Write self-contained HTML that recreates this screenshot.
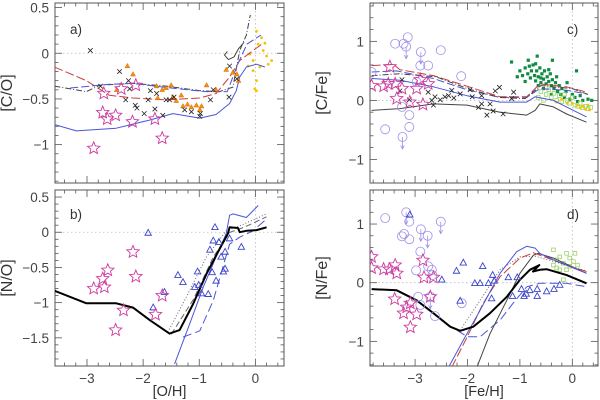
<!DOCTYPE html>
<html><head><meta charset="utf-8"><style>
html,body{margin:0;padding:0;background:#fff}
svg{display:block;font-family:"Liberation Sans",sans-serif}
</style></head><body>
<svg id="fig" width="600" height="400" viewBox="0 0 600 400" xmlns="http://www.w3.org/2000/svg"></svg>
<script>
// ---------- data ----------
const aStars=[[-2.88,-1.04],[-2.70,-0.44],[-2.72,-0.65],[-2.64,-0.72],[-2.49,-0.68],[-2.19,-0.75],[-2.13,-0.35],[-2.39,-0.39],[-1.79,-0.72],[-1.66,-0.93]];
const aCross=[[-2.94,0.03],[-2.76,-0.36],[-2.42,-0.2],[-2.26,-0.3],[-2.24,-0.39],[-2.31,-0.51],[-2.14,-0.57],[-2.11,-0.6],[-1.98,-0.66],[-1.91,-0.51],[-1.79,-0.61],[-1.87,-0.41],[-1.65,-0.68],[-1.59,-0.51],[-1.53,-0.51],[-1.45,-0.48],[-1.26,-0.62],[-1.14,-0.64],[-0.99,-0.69],[-0.98,-0.66],[-0.80,-0.51],[-0.75,-0.40],[-0.47,-0.48],[-0.46,-0.14],[-0.33,-0.28],[-1.76,-0.44]];
const aOrange=[[-2.28,-0.14],[-2.18,-0.23],[-2.47,-0.40],[-1.76,-0.36],[-1.50,-0.35],[-1.74,-0.49],[-1.47,-0.48],[-1.41,-0.52],[-1.29,-0.58],[-1.21,-0.56],[-1.14,-0.59],[-1.05,-0.57],[-0.99,-0.62],[-0.96,-0.58],[-0.87,-0.35],[-0.70,-0.40],[-0.52,-0.18],[-0.40,-0.21],[-0.33,-0.23],[-0.30,-0.30],[-1.66,-0.40],[-1.32,-0.46],[-1.59,-0.38]];
const aYellow=[[0.02,0.24],[0.05,0.10],[0.14,0.03],[0.20,-0.03],[0.29,-0.08],[-0.04,-0.19],[-0.01,-0.39],[0.02,-0.30],[-0.04,-0.08],[-0.1,-0.01],[0.11,0.17],[0.23,-0.12],[-0.13,-0.14],[0.17,0.11],[0.08,-0.15],[0.02,-0.41]];
const aRed=[[-3.58,-0.15],[-3.01,-0.30],[-2.6,-0.46],[-2.18,-0.49],[-1.59,-0.51],[-0.99,-0.49],[-0.70,-0.44],[-0.46,-0.26],[-0.28,-0.08],[-0.04,0.03],[0.14,0.11]];
const aDark=[[-3.58,-0.36],[-3.01,-0.42],[-2.77,-0.35],[-2.18,-0.33],[-1.59,-0.36],[-0.99,-0.41],[-0.64,-0.42],[-0.40,-0.37],[-0.28,0.03],[-0.16,0.20],[-0.09,0.42]];
const aBlue=[[-3.58,-0.78],[-3.19,-0.85],[-2.48,-0.82],[-1.88,-0.73],[-1.47,-0.66],[-0.99,-0.71],[-0.70,-0.67],[-0.46,-0.55],[-0.34,-0.41],[-0.28,-0.26],[-0.16,-0.15],[0.02,-0.12],[0.17,-0.15]];
const aBlueDash=[[-3.3,-0.38],[-2.6,-0.34],[-2.2,-0.33],[-1.5,-0.38],[-0.9,-0.42],[-0.5,-0.42],[-0.3,-0.1],[-0.15,0.1],[0.1,0.2]];
const aLoop=[[-0.5,0.02],[-0.55,-0.02],[-0.48,-0.07],[-0.38,-0.04],[-0.3,0.05],[-0.2,0.12]];
const bStars=[[-2.88,-0.80],[-2.72,-0.66],[-2.69,-0.78],[-2.63,-0.54],[-2.18,-0.28],[-2.13,-0.63],[-2.35,-1.11],[-2.49,-1.39],[-1.78,-1.17],[-1.66,-0.90]];
const bTri=[[-1.91,-0.01],[-1.82,-1.07],[-1.62,-0.85],[-1.38,-0.61],[-1.29,-0.71],[-1.08,-0.78],[-1.03,-0.56],[-1.01,-0.75],[-0.96,-0.87],[-0.84,-0.88],[-0.81,-0.25],[-0.75,-0.12],[-0.77,-0.57],[-0.72,0.07],[-0.70,-0.69],[-0.65,-0.14],[-0.61,-0.35],[-0.57,-0.56],[-0.54,-0.28],[-0.54,-0.52],[-0.25,-0.21],[-0.46,-0.09]];
const bBlack=[[-3.58,-0.83],[-3.01,-1.01],[-2.48,-1.01],[-2.18,-1.07],[-1.88,-1.25],[-1.53,-1.44],[-1.35,-1.39],[-1.11,-1.02],[-0.87,-0.59],[-0.64,-0.24],[-0.49,-0.02],[-0.46,0.07],[-0.31,0.06],[-0.28,0.0],[-0.16,0.02],[0.02,0.03],[0.20,0.07]];
const bDot=[[-1.56,-1.42],[-1.23,-0.92],[-0.87,-0.35],[-0.52,0.02],[-0.28,0.09],[0.2,0.26]];
const bDash=[[-1.5,-1.45],[-1.1,-0.95],[-0.75,-0.35],[-0.45,0.0],[-0.2,0.07],[0.2,0.22]];
const bBlue=[[-1.44,-1.87],[-1.17,-1.30],[-0.93,-0.78],[-0.70,-0.35],[-0.52,-0.02],[-0.46,0.24],[-0.40,0.26],[-0.16,0.21],[0.05,0.38]];
const bBlueDash=[[-1.29,-1.49],[-0.99,-1.40],[-0.75,-0.97],[-0.58,-0.50],[-0.46,-0.17],[-0.28,-0.07],[-0.04,0.02],[0.2,0.19]];
const cCirc=[[-3.57,-0.49],[-3.38,0.96],[-3.22,0.96],[-3.14,1.07],[-2.90,0.59],[-2.75,0.59],[-2.51,0.85],[-2.12,0.41],[-3.11,-0.25],[-3.11,-0.45],[-3.25,-0.11],[-3.83,0.48],[-2.97,0.31]];
const cCircLim=[[-3.17,0.91],[-2.89,0.82],[-3.24,-0.62]];
const cStars=[[-3.83,0.25],[-3.6,0.24],[-3.48,0.57],[-3.38,0.28],[-3.35,0.03],[-3.25,0.2],[-3.10,-0.03],[-2.97,0.20],[-2.85,-0.07],[-2.90,0.35],[-2.75,0.28],[-3.51,0.28]];
const cCross=[[-3.25,0.35],[-3.29,0.16],[-3.11,0.01],[-2.75,0.14],[-2.68,0],[-2.65,-0.08],[-2.62,0.06],[-2.43,0.06],[-2.30,0.17],[-2.26,0.04],[-2.14,0.11],[-1.95,0.18],[-1.91,0.06],[-1.73,0.08],[-1.73,-0.06],[-1.63,-0.25],[-1.57,-0.06],[-1.51,-0.18],[-1.47,0.16],[-1.39,0.22],[-1.32,-0.23],[-1.12,0.14],[-1.16,0.03],[-2.36,0.08],[-2.52,0.01],[-1.79,-0.12]];
const cGreen=[[-1.16,0.65],[-0.67,0.75],[-0.38,0.68],[-0.84,0.68],[-1.0,0.5],[-0.95,0.42],[-0.9,0.55],[-0.85,0.45],[-0.8,0.38],[-0.78,0.5],[-0.75,0.6],[-0.72,0.42],[-0.7,0.33],[-0.68,0.5],[-0.65,0.4],[-0.62,0.55],[-0.6,0.3],[-0.58,0.45],[-0.55,0.36],[-0.53,0.5],[-0.5,0.28],[-0.48,0.4],[-0.45,0.32],[-0.42,0.45],[-0.4,0.25],[-0.38,0.35],[-0.35,0.2],[-0.32,0.3],[-0.3,0.4],[-0.28,0.15],[-0.25,0.25],[-0.22,0.1],[-0.2,0.2],[-0.15,0.05],[-0.12,0.15],[-0.1,0.3],[-0.05,0.02],[0.0,0.1],[0.05,0.05],[0.1,-0.02],[0.15,0.08],[0.2,0.0],[0.3,0.02],[0.37,0.0],[0.08,0.5],[-0.9,0.32],[-1.05,0.4],[-0.65,0.25],[-0.55,0.2],[-0.4,0.1],[-0.82,0.58],[-0.7,0.62],[-0.6,0.38],[-0.45,0.52]];
const cLight=[[-0.6,0.15],[-0.5,0.1],[-0.45,0.18],[-0.4,0.05],[-0.35,0.12],[-0.3,0.0],[-0.25,0.08],[-0.2,-0.02],[-0.15,0.1],[-0.1,0.0],[-0.05,-0.05],[0.0,0.05],[0.05,-0.08],[0.1,-0.1],[0.15,-0.05],[0.2,-0.12],[0.25,-0.1],[0.3,-0.14],[0.35,-0.12],[-0.55,0.0],[-0.65,0.05]];
const cYellow=[[0.0,-0.05],[0.1,-0.08],[0.2,-0.1],[0.25,-0.15],[0.3,-0.08],[-0.2,0.02],[-0.1,-0.05],[0.15,-0.13],[0.33,-0.16],[-0.3,-0.03]];
const cGray=[[-3.83,-0.17],[-3.29,-0.14],[-2.65,-0.06],[-2.01,-0.08],[-1.38,-0.20],[-0.87,-0.25],[-0.71,-0.17],[-0.62,-0.06],[-0.36,-0.11],[-0.11,-0.23],[0.27,-0.37]];
const cBlue=[[-3.83,0.37],[-3.29,0.34],[-2.65,0.23],[-2.01,0.08],[-1.38,-0.03],[-0.87,-0.03],[-0.71,0.06],[-0.36,0.0],[0.27,-0.28]];
const cBlueDash=[[-3.83,0.48],[-3.35,0.5],[-2.65,0.37],[-2.01,0.18],[-1.38,0.05],[-0.87,0.05],[-0.62,0.2],[-0.11,0.17],[0.27,0.11]];
const cRed=[[-3.83,0.59],[-3.41,0.61],[-3.29,0.52],[-2.65,0.42],[-2.01,0.24],[-1.38,0.06],[-0.87,0.06],[-0.62,0.28],[-0.11,0.23],[0.27,0.14]];
const cDark=[[-3.83,0.42],[-3.3,0.45],[-2.6,0.4],[-2.0,0.2],[-1.4,0.05],[-0.9,0.03],[-0.6,0.25],[0.0,0.2],[0.3,0.1]];
const dCirc=[[-3.57,1.10],[-3.11,1.04],[-3.25,0.79],[-3.21,0.83],[-3.11,0.74],[-2.90,0.53],[-2.98,0.21],[-2.75,0.28],[-2.68,0.22],[-2.67,0.13],[-2.94,-0.24],[-2.62,-0.57],[-2.90,-0.38],[-2.11,-0.35]];
const dCircLim=[[-3.17,1.20],[-2.89,0.91],[-2.76,0.80],[-2.51,1.04],[-2.71,-0.24]];
const dStars=[[-3.83,0.44],[-3.83,0.25],[-3.6,0.23],[-3.49,0.23],[-3.38,0.30],[-3.35,0.16],[-3.39,-0.28],[-3.16,-0.42],[-3.09,-0.35],[-2.97,-0.54],[-3.09,-0.76],[-2.85,0.38],[-2.83,0.09],[-2.65,0.09],[-2.71,-0.24],[-3.22,-0.52]];
const dTri=[[-3.10,1.16],[-2.49,0.05],[-2.08,0.34],[-2.21,0.20],[-1.71,0.28],[-1.86,-0.01],[-1.76,-0.01],[-2.14,-0.31],[-1.52,0.13],[-1.49,0.03],[-1.60,-0.01],[-1.54,-0.27],[-1.22,0.09],[-1.05,0.09],[-1.14,-0.23],[-0.97,-0.11],[-0.92,-0.23],[-0.88,-0.19],[-0.81,-0.13],[-0.67,-0.11],[-0.67,-0.23],[-0.49,-0.15],[-0.35,-0.11],[-0.24,-0.04]];
const dLight=[[-0.36,0.56],[-0.24,0.44],[-0.11,0.50],[-0.05,0.42],[-0.30,0.39],[-0.17,0.33],[-0.36,0.30],[0.02,0.36],[-0.11,0.22],[-0.17,0.05],[0.05,0.50],[-0.24,0.22],[-0.3,0.25],[-0.05,0.28],[0.1,0.3]];
const dBlack=[[-3.83,-0.11],[-3.35,-0.13],[-2.97,-0.30],[-2.65,-0.52],[-2.33,-0.75],[-2.14,-0.82],[-1.89,-0.75],[-1.57,-0.52],[-1.25,-0.24],[-1.0,0.05],[-0.81,0.22],[-0.63,0.30],[-0.75,0.19],[-0.62,0.22],[-0.49,0.23],[-0.11,0.13],[0.27,-0.01]];
const dBlue=[[-2.36,-1.44],[-2.08,-0.98],[-1.76,-0.47],[-1.38,0.16],[-1.06,0.53],[-0.87,0.62],[-0.71,0.59],[-0.62,0.50],[-0.36,0.39],[0.02,0.25],[0.27,0.16]];
const dRed=[[-2.30,-1.44],[-2.01,-0.93],[-1.70,-0.35],[-1.38,0.10],[-1.0,0.42],[-0.74,0.51],[-0.62,0.47],[-0.11,0.30],[0.27,0.19]];
const dGray=[[-1.82,-1.44],[-1.57,-0.87],[-1.25,-0.30],[-1.0,0.16],[-0.74,0.47],[-0.65,0.50],[-0.36,0.42],[0.27,0.16]];
const dBlueDash=[[-2.20,-0.81],[-2.01,-0.92],[-1.76,-0.92],[-1.38,-0.64],[-1.13,-0.35],[-0.87,-0.07],[-0.62,-0.01],[-0.11,-0.01],[0.27,-0.07]];
const dDot=[[-2.14,-0.81],[-1.76,-0.30],[-1.38,0.22],[-1.0,0.44],[-0.7,0.45],[0.27,0.2]];
const xTicksLeft=[-3,-2,-1,0];
const xTicksRight=[-3,-2,-1,0];
const yTicksA=[0.5,0,-0.5,-1];
const yTicksB=[0.5,0,-0.5,-1,-1.5];
const yTicksC=[1,0,-1];
const yTicksD=[1,0,-1];

const NS="http://www.w3.org/2000/svg";
const svg=document.getElementById('fig');
function mk(tag,attrs,parent){const e=document.createElementNS(NS,tag);for(const k in attrs)e.setAttribute(k,attrs[k]);(parent||svg).appendChild(e);return e;}
function fmt(v){return v===0?'0':(v<0?'\u2212'+String(-v):String(v));}

function panel(name,box,xr,yr,xMajor,xMinor,yMajor,yMinor,xLab,yLab,showXLab,xTitle,yTitle,tag,tagPos){
  const g=mk('g',{});
  
  
  const [L,T,R,B]=box;
  const sx=v=>L+(v-xr[0])/(xr[1]-xr[0])*(R-L);
  const sy=v=>B-(v-yr[0])/(yr[1]-yr[0])*(B-T);
  const clipId='clip-'+name;
  const cp=mk('clipPath',{id:clipId},g);mk('rect',{x:L,y:T,width:R-L,height:B-T},cp);
  const zl=mk('line',{x1:L,x2:R,y1:sy(0),y2:sy(0),stroke:'#bbb','stroke-width':0.8,'stroke-dasharray':'1.5,2.5'},g);
  
  
  const zx=mk('line',{x1:sx(0),x2:sx(0),y1:T,y2:B,stroke:'#bbb','stroke-width':0.8,'stroke-dasharray':'1.5,2.5'},g);
  
  
  const tk=mk('g',{stroke:'#555','stroke-width':0.8},g);
  
  
  const eps=1e-6;
  for(let v=Math.ceil(xr[0]/xMinor)*xMinor;v<=xr[1]+eps;v+=xMinor){
    const isM=Math.abs(v/xMajor-Math.round(v/xMajor))<1e-4;const len=isM?7:3.5;const x=sx(v);
    mk('line',{x1:x,x2:x,y1:B,y2:B-len},tk);mk('line',{x1:x,x2:x,y1:T,y2:T+len},tk);
  }
  for(let v=Math.ceil(yr[0]/yMinor)*yMinor;v<=yr[1]+eps;v+=yMinor){
    const isM=Math.abs(v/yMajor-Math.round(v/yMajor))<1e-4;const len=isM?7:3.5;const y=sy(v);
    mk('line',{x1:L,x2:L+len,y1:y,y2:y},tk);mk('line',{x1:R,x2:R-len,y1:y,y2:y},tk);
  }
  mk('rect',{x:L,y:T,width:R-L,height:B-T,fill:'none',stroke:'#555','stroke-width':1},g);
  yLab.forEach(v=>{const t=mk('text',{x:L-6,y:sy(v)+5,'text-anchor':'end','font-size':13.5,fill:'#444'},g);t.textContent=fmt(v);
    
    });
  if(showXLab) xLab.forEach(v=>{const t=mk('text',{x:sx(v),y:B+17,'text-anchor':'middle','font-size':13.5,fill:'#444'},g);t.textContent=fmt(v);
    
    });
  if(xTitle){const t=mk('text',{x:(L+R)/2,y:B+30,'text-anchor':'middle','font-size':14.5,fill:'#333'},g);t.textContent=xTitle;
    
    }
  const yt=mk('text',{x:0,y:0,'text-anchor':'middle','font-size':16,fill:'#333',transform:`translate(${L-43},${(T+B)/2}) rotate(-90)`},g);yt.textContent=yTitle;
  
  
  const lt=mk('text',{x:tagPos[0],y:tagPos[1],'font-size':13.5,fill:'#333'},g);lt.textContent=tag;
  
  
  const plot=mk('g',{'clip-path':`url(#${clipId})`},g);
  return {sx,sy,plot};
}

function line(P,pts,color,w,dash,nm){
  const d=pts.map((p,i)=>(i?'L':'M')+P.sx(p[0]).toFixed(1)+','+P.sy(p[1]).toFixed(1)).join('');
  const e=mk('path',{d,fill:'none',stroke:color,'stroke-width':w,'stroke-linejoin':'round'},P.plot);
  if(dash)e.setAttribute('stroke-dasharray',dash);
  
  
}
function starPath(cx,cy,r){let d='';for(let i=0;i<10;i++){const a=-Math.PI/2+i*Math.PI/5;const rr=i%2?r*0.45:r;d+=(i?'L':'M')+(cx+rr*Math.cos(a)).toFixed(1)+','+(cy+rr*Math.sin(a)).toFixed(1);}return d+'Z';}
function pts(P,arr,kind,color,nm){
  arr.forEach(p=>{
    const x=P.sx(p[0]),y=P.sy(p[1]);let e;
    if(kind==='star')e=mk('path',{d:starPath(x,y,6.5),fill:'none',stroke:color,'stroke-width':0.9},P.plot);
    else if(kind==='tri')e=mk('path',{d:`M${x},${y-3.5}L${x+3.2},${y+2.3}L${x-3.2},${y+2.3}Z`,fill:'none',stroke:color,'stroke-width':0.9},P.plot);
    else if(kind==='ftri')e=mk('path',{d:`M${x},${y-2.7}L${x+2.5},${y+1.8}L${x-2.5},${y+1.8}Z`,fill:color,stroke:'#a05000','stroke-width':0.3},P.plot);
    else if(kind==='cross')e=mk('path',{d:`M${x-2.3},${y-2.3}L${x+2.3},${y+2.3}M${x-2.3},${y+2.3}L${x+2.3},${y-2.3}`,stroke:color,'stroke-width':0.8},P.plot);
    else if(kind==='dot')e=mk('circle',{cx:x,cy:y,r:1.4,fill:color},P.plot);
    else if(kind==='sq')e=mk('rect',{x:x-1.6,y:y-1.6,width:3.2,height:3.2,fill:color},P.plot);
    else if(kind==='osq')e=mk('rect',{x:x-1.8,y:y-1.8,width:3.6,height:3.6,fill:'none',stroke:color,'stroke-width':0.8},P.plot);
    else if(kind==='circ')e=mk('circle',{cx:x,cy:y,r:4.5,fill:'none',stroke:color,'stroke-width':0.8},P.plot);
    else if(kind==='circlim'){e=mk('g',{},P.plot);mk('circle',{cx:x,cy:y,r:4.5,fill:'none',stroke:color,'stroke-width':0.8},e);
      mk('path',{d:`M${x},${y}L${x},${y+12}M${x-1.8},${y+8.5}L${x},${y+12}L${x+1.8},${y+8.5}`,fill:'none',stroke:color,'stroke-width':0.8},e);}
    
    
  });
}

const RED='#cc3a3a',DARK='#444',BLUE='#4a55d8',MAG='#cc3a9e',LAV='#9f8ee8',TRI='#3a44cc';

const A=panel('panel-a',[55,3,284,183],[-3.57,0.51],[-1.42,0.55],1,0.2,0.5,0.1,xTicksLeft,yTicksA,false,null,'[C/O]','a)',[70,34]);
pts(A,aYellow,'dot','#f5c400','yellow-point');
line(A,aRed,RED,1,'9,3','model-red-dashed');
line(A,aDark,DARK,1,'6,2,1,2','model-dark-dashdot');
line(A,aBlueDash,BLUE,1,'8,3','model-blue-dashed');
line(A,aBlue,BLUE,1,null,'model-blue-solid');
line(A,aLoop,DARK,1,null,'model-loop');
pts(A,aOrange,'ftri','#ff8c00','orange-triangle');
pts(A,aCross,'cross','#222','cross-point');
pts(A,aStars,'star',MAG,'star-point');

const B=panel('panel-b',[55,190,284,366],[-3.57,0.51],[-1.9,0.6],1,0.2,0.5,0.1,xTicksLeft,yTicksB,true,'[O/H]','[N/O]','b)',[70,219]);
line(B,bDot,'#666',1,'1,2','model-gray-dotted');
line(B,bDash,'#666',1,'6,3','model-gray-dashed');
line(B,bBlueDash,BLUE,1,'9,4','model-blue-dashed');
line(B,bBlue,BLUE,1,null,'model-blue-solid');
line(B,bBlack,'#000',2,null,'model-black-thick');
pts(B,bTri,'tri',TRI,'triangle-point');
pts(B,bStars,'star',MAG,'star-point');

const C=panel('panel-c',[370,3,598,183],[-3.86,0.49],[-1.4,1.65],1,0.2,1,0.2,xTicksRight,yTicksC,false,null,'[C/Fe]','c)',[567,34]);
pts(C,cGreen,'sq','#118a44','green-square');
pts(C,cLight,'osq','#99d466','lightgreen-square');
pts(C,cYellow,'dot','#f5c400','yellow-point');
line(C,cGray,DARK,1,null,'model-gray-solid');
line(C,cBlue,BLUE,1,null,'model-blue-solid');
line(C,cBlueDash,BLUE,1,'8,3','model-blue-dashed');
line(C,cRed,RED,1,'9,3','model-red-dashed');
line(C,cDark,DARK,1,'6,2,1,2','model-dark-dashdot');
pts(C,cCirc,'circ',LAV,'open-circle');
pts(C,cCircLim,'circlim',LAV,'upper-limit-circle');
pts(C,cCross,'cross','#222','cross-point');
pts(C,cStars,'star',MAG,'star-point');

const D=panel('panel-d',[370,190,598,366],[-3.86,0.49],[-1.42,1.58],1,0.2,1,0.2,xTicksRight,yTicksD,true,'[Fe/H]','[N/Fe]','d)',[567,219]);
pts(D,dLight,'osq','#99d466','lightgreen-square');
line(D,dDot,'#666',1,'1,2','model-gray-dotted');
line(D,dBlueDash,BLUE,1,'9,4','model-blue-dashed');
line(D,dGray,DARK,1,null,'model-gray-solid');
line(D,dRed,RED,1,'9,3','model-red-dashed');
line(D,dBlue,BLUE,1,null,'model-blue-solid');
line(D,dBlack,'#000',2,null,'model-black-thick');
pts(D,dCirc,'circ',LAV,'open-circle');
pts(D,dCircLim,'circlim',LAV,'upper-limit-circle');
pts(D,dTri,'tri',TRI,'triangle-point');
pts(D,dStars,'star',MAG,'star-point');
</script>
</body></html>
